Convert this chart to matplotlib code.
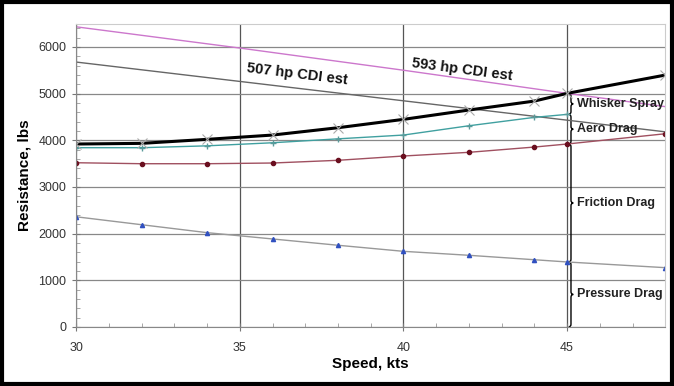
import numpy as np
import matplotlib.pyplot as plt
from matplotlib.path import Path
from matplotlib.patches import PathPatch, Rectangle
from matplotlib.ticker import MultipleLocator

# speeds (kts)
speed = [30, 32, 34, 36, 38, 40, 42, 44, 45, 48]
pressure = [2360, 2190, 2020, 1885, 1750, 1620, 1535, 1440, 1392, 1270]
friction_total = [3518, 3497, 3497, 3512, 3570, 3662, 3741, 3854, 3919, 4139]
speed_aero = [30, 32, 34, 36, 38, 40, 42, 44, 45]
aero_total = [3840, 3840, 3880, 3946, 4030, 4111, 4310, 4490, 4554]
total = [3919, 3933, 4019, 4111, 4268, 4447, 4647, 4839, 5004, 5396]

speed_hp = [30, 35, 40, 45, 48]
hp593 = [6430, 5975, 5500, 5004, 4720]
hp507 = [5675, 5260, 4845, 4430, 4180]

brace_x = 45.12
braces = [
    (4554, 5004, "Whisker Spray"),
    (3919, 4554, "Aero Drag"),
    (1392, 3919, "Friction Drag"),
    (0, 1392, "Pressure Drag"),
]

FONT = ["Liberation Sans", "DejaVu Sans"]

fig = plt.figure(figsize=(6.74, 3.86), dpi=100)
ax = fig.add_axes([0.113, 0.153, 0.874, 0.786])

ax.set_xlim(30, 48)
ax.set_ylim(0, 6500)
ax.xaxis.set_major_locator(MultipleLocator(5))
ax.xaxis.set_minor_locator(MultipleLocator(1))
ax.yaxis.set_major_locator(MultipleLocator(1000))
ax.yaxis.set_minor_locator(MultipleLocator(200))
ax.grid(axis="y", which="major", color="#888888", lw=0.9)
ax.grid(axis="x", which="major", color="#555555", lw=0.9)
ax.set_axisbelow(True)
ax.tick_params(which="major", direction="inout", length=6, color="#777777",
               labelsize=9, labelcolor="#333333", pad=4)
ax.tick_params(which="minor", direction="in", length=3, color="#999999")
ax.tick_params(axis="x", pad=8)
for side in ["left", "bottom"]:
    ax.spines[side].set_color("#888888")
for side in ["top", "right"]:
    ax.spines[side].set_color("#cccccc")

ax.plot(speed_hp, hp593, color="#cc77cc", lw=1.0)
ax.plot(speed_hp, hp507, color="#666666", lw=1.0)
ax.plot(speed, pressure, color="#999999", lw=1.0, marker="^", ms=3,
        mfc="#3050c0", mec="#3050c0")
ax.plot(speed, friction_total, color="#a05060", lw=1.0, marker="o", ms=3,
        mfc="#6a0f1f", mec="#6a0f1f")
ax.plot(speed_aero, aero_total, color="#40a0a0", lw=1.0, marker="+", ms=4,
        mec="#5a9a9a")
ax.plot(speed, total, color="black", lw=2.2, marker="x", ms=7,
        mec="#aaaaaa", mew=0.8)


def curly_brace(ax, x, y0, y1, w=0.14):
    ym = (y0 + y1) / 2
    h = min(60, (y1 - y0) / 4)
    verts = [
        (x - w / 2, y0), (x, y0), (x, y0 + h),
        (x, ym - h), (x, ym), (x + w / 2, ym),
        (x, ym), (x, ym + h),
        (x, y1 - h), (x, y1), (x - w / 2, y1),
    ]
    codes = [Path.MOVETO, Path.CURVE3, Path.CURVE3,
             Path.LINETO, Path.CURVE3, Path.CURVE3,
             Path.CURVE3, Path.CURVE3,
             Path.LINETO, Path.CURVE3, Path.CURVE3]
    ax.add_patch(PathPatch(Path(verts, codes), fc="none", ec="black", lw=1.0))


for y0, y1, label in braces:
    curly_brace(ax, brace_x, y0, y1)
    ax.text(brace_x + 0.17, (y0 + y1) / 2, label, fontsize=9, fontweight="bold",
            color="#222222", va="center", ha="left", family=FONT)

ax.text(36.75, 5420, "507 hp CDI est", rotation=-7, fontsize=10.5,
        fontweight="bold", ha="center", va="center", color="#111111",
        family=FONT)
ax.text(41.8, 5505, "593 hp CDI est", rotation=-7.5, fontsize=10.5,
        fontweight="bold", ha="center", va="center", color="#111111",
        family=FONT)

ax.set_xlabel("Speed, kts", fontsize=11, fontweight="bold", labelpad=2,
              family=FONT)
ax.set_ylabel("Resistance, lbs", fontsize=11, fontweight="bold", labelpad=5,
              family=FONT)
for lbl in ax.get_xticklabels() + ax.get_yticklabels():
    lbl.set_family(FONT)

fig.patches.append(Rectangle((0.003, 0.004), 0.994, 0.992, transform=fig.transFigure,
                             fill=False, ec="black", lw=3))

fig.savefig("out.png", dpi=100)
